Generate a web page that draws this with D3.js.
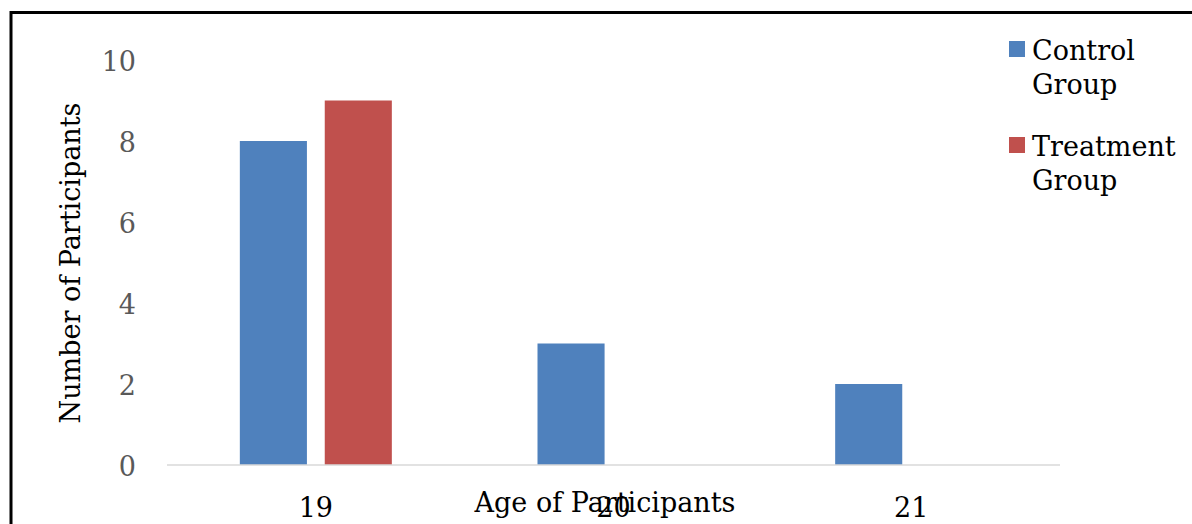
<!DOCTYPE html>
<html><head><meta charset="utf-8">
<script src="https://cdn.jsdelivr.net/npm/d3@7"></script>
<style>html,body{margin:0;padding:0;background:#fff;overflow:hidden}</style>
</head><body>
<svg id="c" width="1192" height="524"></svg>
<script>
const categories = ["19", "20", "21"];
const seriesNames = ["Control Group", "Treatment Group"];
const controlValues = [8, 3, 2];
const treatmentValues = [9, 0, 0];
const yTicks = [0, 2, 4, 6, 8, 10];
const colors = ["#4f81bd", "#c0504d"];

(function () {
const FONT = "'DejaVu Serif', serif";
const svg = d3.select("#c");
svg.append("rect").attr("x", 11).attr("y", 12.5).attr("width", 1250).attr("height", 600)
  .attr("fill", "none").attr("stroke", "#000").attr("stroke-width", 3);

const pLeft = 167, pRight = 1060, pTop = 60, pBottom = 465;
const x = d3.scaleBand().domain(categories).range([pLeft, pRight]);
const y = d3.scaleLinear().domain([0, 10]).range([pBottom, pTop]);
const inner = d3.scaleBand().domain(seriesNames).range([-76, 76]).paddingInner(0.21);

const data = [controlValues, treatmentValues];

seriesNames.forEach((s, si) => {
  svg.append("g").selectAll("rect").data(categories).join("rect")
    .attr("x", c => x(c) + x.bandwidth() / 2 + inner(s))
    .attr("width", inner.bandwidth())
    .attr("y", (c, i) => y(data[si][i]))
    .attr("height", (c, i) => y(0) - y(data[si][i]))
    .attr("fill", colors[si]);
});

svg.append("line").attr("x1", pLeft).attr("x2", pRight).attr("y1", y(0)).attr("y2", y(0))
  .attr("stroke", "#d9d9d9").attr("stroke-width", 1.5);

const yAxis = d3.axisLeft(y).tickValues(yTicks).tickSize(0).tickPadding(0);
const ga = svg.append("g").attr("transform", "translate(136,1)").call(yAxis);
ga.select(".domain").remove();
ga.selectAll("text").attr("font-family", FONT).attr("font-size", 27).attr("fill", "#595959").attr("dy", "0.35em");

const xAxis = d3.axisBottom(x).tickSize(0).tickPadding(0);
const gx = svg.append("g").attr("transform", "translate(0,517)").call(xAxis);
gx.select(".domain").remove();
gx.selectAll("text").attr("font-family", FONT).attr("font-size", 27).attr("fill", "#000").attr("dy", 0);

svg.append("text").attr("x", 605).attr("y", 512).attr("text-anchor", "middle")
  .attr("font-family", FONT).attr("font-size", 27).attr("fill", "#000").text("Age of Participants");
svg.append("text").attr("transform", "translate(80,263) rotate(-90)").attr("text-anchor", "middle")
  .attr("font-family", FONT).attr("font-size", 27).attr("fill", "#000").text("Number of Participants");

const legendLines = [["Control", "Group"], ["Treatment", "Group"]];
seriesNames.forEach((s, i) => {
  const g = svg.append("g").attr("transform", `translate(1009,${41 + i * 96})`);
  g.append("rect").attr("width", 16).attr("height", 16).attr("fill", colors[i]);
  legendLines[i].forEach((t, j) => {
    g.append("text").attr("x", 23).attr("y", 19 + j * 34).attr("font-family", FONT)
      .attr("font-size", 27).attr("fill", "#000").text(t);
  });
});
})();
</script>
</body></html>
